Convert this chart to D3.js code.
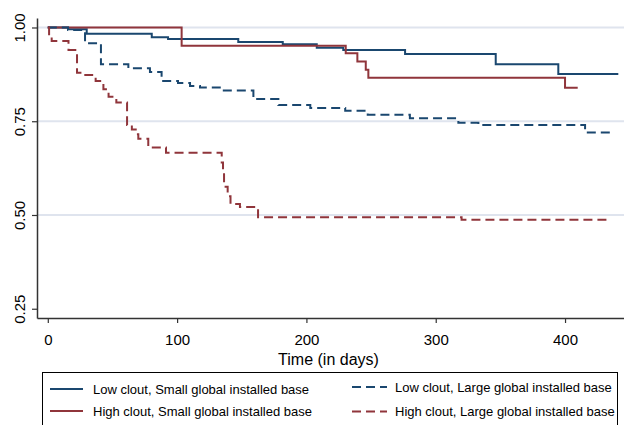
<!DOCTYPE html>
<html>
<head>
<meta charset="utf-8">
<script src="https://cdn.jsdelivr.net/npm/d3@7"></script>
<style>
  body { margin: 0; background: #fff; }
  svg { font-family: "Liberation Sans", Arial, sans-serif; }
</style>
</head>
<body>
<svg id="chart" width="624" height="425"></svg>
<script>
// Kaplan-Meier survival estimates (time in days, survival share)
const lowSmallT = [0, 15.6, 30.1, 80.4, 93, 147.3, 181.7, 208, 228.5, 276.3, 346.4, 394.8, 441.2];
const lowSmallS = [1, 0.995, 0.983, 0.974, 0.969, 0.961, 0.955, 0.946, 0.94, 0.929, 0.902, 0.876, 0.876];

const highSmallT = [0, 103.5, 230.4, 239.4, 245.9, 247.9, 400, 409.8];
const highSmallS = [1, 0.951, 0.931, 0.909, 0.887, 0.866, 0.839, 0.839];

const lowLargeT = [0, 15.7, 28.8, 41.1, 62.3, 79, 88, 100.7, 110, 117.7, 133, 159, 178.3, 203, 230, 247.4, 280, 317.5, 333, 415.5, 434.8];
const lowLargeS = [1, 0.993, 0.958, 0.902, 0.891, 0.881, 0.857, 0.852, 0.844, 0.84, 0.832, 0.809, 0.793, 0.785, 0.778, 0.767, 0.758, 0.746, 0.74, 0.72, 0.72];

const highLargeT = [0, 1, 3, 16, 22.6, 29, 37, 43, 47, 53, 61.3, 65, 68, 70, 77.7, 91.4, 134.5, 135.5, 136.3, 137.5, 139.1, 141.3, 148.6, 162.6, 320, 434.8];
const highLargeS = [1, 0.975, 0.964, 0.94, 0.879, 0.873, 0.857, 0.835, 0.815, 0.8, 0.74, 0.728, 0.715, 0.703, 0.68, 0.666, 0.64, 0.615, 0.59, 0.575, 0.55, 0.529, 0.521, 0.494, 0.487, 0.487];

const xTicks = [0, 100, 200, 300, 400];
const yTicks = [0.25, 0.5, 0.75, 1];
const gridTicks = [0.5, 0.75, 1];
const seriesNames = [
  "Low clout, Small global installed base",
  "High clout, Small global installed base",
  "Low clout, Large global installed base",
  "High clout, Large global installed base",
];

const navy = "#1a476f";
const maroon = "#90353b";

const svg = d3.select("#chart");
const plotLeft = 37; // y axis position
const plotRight = 624;
const plotTop = 18;
const plotBottom = 318; // x axis position

// scales fitted to where the ticks sit in the picture
const x = d3.scaleLinear().domain([-8.35, 445.6]).range([plotLeft, plotRight]);
const y = d3.scaleLinear().domain([0.2253, 1.0253]).range([plotBottom, plotTop]);

// light horizontal grid
svg
  .append("g")
  .selectAll("line")
  .data(gridTicks)
  .join("line")
  .attr("x1", plotLeft)
  .attr("x2", plotRight)
  .attr("y1", (d) => y(d))
  .attr("y2", (d) => y(d))
  .attr("stroke", "#dfe4ee")
  .attr("stroke-width", 1.8);

// x axis
const xAxis = svg
  .append("g")
  .attr("transform", "translate(0," + plotBottom + ")")
  .call(d3.axisBottom(x).tickValues(xTicks).tickSize(5).tickSizeOuter(0));
xAxis.select(".domain").attr("stroke", "#333").attr("stroke-width", 1.5);
xAxis.selectAll(".tick line").attr("stroke", "#333").attr("stroke-width", 1.2);
xAxis
  .selectAll(".tick text")
  .attr("y", 27)
  .attr("dy", null)
  .attr("fill", "#000")
  .attr("font-size", "15px");

// y axis with rotated labels
const yAxis = svg
  .append("g")
  .attr("transform", "translate(" + plotLeft + ",0)")
  .call(d3.axisLeft(y).tickValues(yTicks).tickSize(5).tickSizeOuter(0).tickFormat(d3.format(".2f")));
yAxis.select(".domain").attr("stroke", "#333").attr("stroke-width", 1.5);
yAxis.selectAll(".tick line").attr("stroke", "#333").attr("stroke-width", 1.2);
yAxis
  .selectAll(".tick text")
  .attr("x", null)
  .attr("dy", null)
  .attr("transform", "translate(-12,0) rotate(-90)")
  .attr("text-anchor", "middle")
  .attr("fill", "#000")
  .attr("font-size", "15px");

// axis title
svg
  .append("text")
  .attr("x", (plotLeft + plotRight) / 2 - 2)
  .attr("y", 365)
  .attr("text-anchor", "middle")
  .attr("font-size", "16px")
  .text("Time (in days)");

// step lines
const line = d3
  .line()
  .curve(d3.curveStepAfter)
  .x(function (d) {
    return x(d[0]);
  })
  .y(function (d) {
    return y(d[1]);
  });

const series = [
  { t: lowSmallT, s: lowSmallS, color: navy, dash: null },
  { t: highSmallT, s: highSmallS, color: maroon, dash: null },
  { t: lowLargeT, s: lowLargeS, color: navy, dash: "9,5" },
  { t: highLargeT, s: highLargeS, color: maroon, dash: "9,5" },
];

series.forEach(function (d) {
  svg
    .append("path")
    .datum(d3.zip(d.t, d.s))
    .attr("fill", "none")
    .attr("stroke", d.color)
    .attr("stroke-width", 2)
    .attr("stroke-dasharray", d.dash)
    .attr("d", line);
});

// legend box (runs off the bottom like the original)
svg
  .append("rect")
  .attr("x", 42.5)
  .attr("y", 372.5)
  .attr("width", 575)
  .attr("height", 70)
  .attr("fill", "#fff")
  .attr("stroke", "#000")
  .attr("stroke-width", 1);

const legendPos = [
  { x: 50, y: 389 },
  { x: 50, y: 411 },
  { x: 352, y: 387 },
  { x: 352, y: 411.5 },
];

series.forEach(function (d, i) {
  const p = legendPos[i];
  svg
    .append("line")
    .attr("x1", p.x)
    .attr("x2", p.x + (d.dash ? 35 : 33))
    .attr("y1", p.y)
    .attr("y2", p.y)
    .attr("stroke", d.color)
    .attr("stroke-width", 2)
    .attr("stroke-dasharray", d.dash);
  svg
    .append("text")
    .attr("x", p.x + 43)
    .attr("y", p.y)
    .attr("dy", "0.35em")
    .attr("font-size", "13px")
    .text(seriesNames[i]);
});
</script>
</body>
</html>
